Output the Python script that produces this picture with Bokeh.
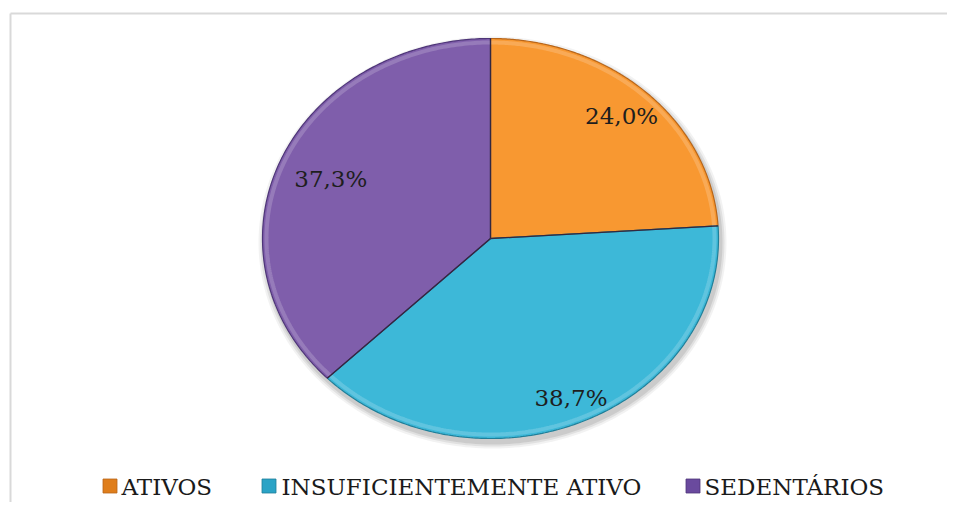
import numpy as np
from bokeh.plotting import figure
from bokeh.models import Range1d
from bokeh.core.properties import value
from bokeh.embed import file_html
from bokeh.resources import INLINE

# ---- data ----
categories = ["ATIVOS", "INSUFICIENTEMENTE ATIVO", "SEDENTÁRIOS"]
percentages = [24.0, 38.7, 37.3]
fill_colors = ["#F89831", "#3DB8D8", "#7F5EAB"]
edge_colors = ["#B8661A", "#1F7F99", "#4E3578"]
marker_colors = ["#DF7E1C", "#2AA3C6", "#6A4A9E"]

SERIF = "DejaVu Serif"

# ---- layout (page-like coordinates, y grows downwards) ----
W, H = 947, 502
cx, cy = 490, 238
rx, ry = 228, 200
label_r = [0.84, 0.87, 0.76]
legend_marker_x = [109.5, 268.5, 692.5]
legend_text_x = [121, 281, 704]
legend_y = 485

p = figure(width=W, height=H, output_backend="svg", toolbar_location=None,
           x_range=Range1d(0, W), y_range=Range1d(H, 0), min_border=0)
p.axis.visible = False
p.grid.visible = False
p.outline_line_color = None
p.background_fill_color = "white"
p.border_fill_color = "white"

# chart frame (only top and left edges visible in reference)
p.line(x=[10, W], y=[13, 13], line_color="#D9D9D9", line_width=2)
p.line(x=[10, 10], y=[13, H], line_color="#D9D9D9", line_width=2)

# slices
vals = np.array(percentages)
fracs = vals / vals.sum()
ends = np.cumsum(fracs) * 2 * np.pi
starts = ends - fracs * 2 * np.pi

# soft shadow
t = np.linspace(0, 2 * np.pi, 300)
for k, a in [(6, 0.05), (4, 0.07), (2, 0.09)]:
    p.patch(x=cx + 2 + (rx + k) * np.sin(t), y=cy + 4 + (ry + k) * -np.cos(t),
            fill_color="black", fill_alpha=a, line_color=None)

xs, ys = [], []
for s, e in zip(starts, ends):
    th = np.linspace(s, e, 200)
    xs.append(np.concatenate([[cx], cx + rx * np.sin(th), [cx]]))
    ys.append(np.concatenate([[cy], cy - ry * np.cos(th), [cy]]))
p.patches(xs=xs, ys=ys, fill_color=fill_colors, line_color=edge_colors, line_width=1.2)

# subtle bevel highlight near the rim
for s, e in zip(starts, ends):
    th = np.linspace(s, e, 200)
    p.line(x=cx + (rx - 4) * np.sin(th), y=cy - (ry - 4) * np.cos(th),
           line_color="white", line_alpha=0.18, line_width=4)

# radial dividers
for s in starts:
    p.line(x=[cx, cx + rx * np.sin(s)], y=[cy, cy - ry * np.cos(s)],
           line_color="#33283F", line_width=1.3)

# data labels
mids = (starts + ends) / 2
lab_x = [cx + r * rx * np.sin(m) for r, m in zip(label_r, mids)]
lab_y = [cy - r * ry * np.cos(m) for r, m in zip(label_r, mids)]
lab_t = [f"{v:.1f}".replace(".", ",") + "%" for v in percentages]
p.text(x=lab_x, y=lab_y, text=lab_t, text_font=value(SERIF),
       text_font_size="23px", text_color="#1E1E1E",
       text_align="center", text_baseline="middle")

# legend
p.scatter(x=legend_marker_x, y=[legend_y + 0.5] * 3, marker="square", size=14,
          fill_color=marker_colors, line_color=edge_colors, line_width=0.8)
p.text(x=legend_text_x, y=[legend_y + 1] * 3, text=categories,
       text_font=value(SERIF), text_font_size="23px",
       text_color="#1A1A1A", text_align="left", text_baseline="middle")

open("out.html", "w").write(file_html(p, INLINE))
